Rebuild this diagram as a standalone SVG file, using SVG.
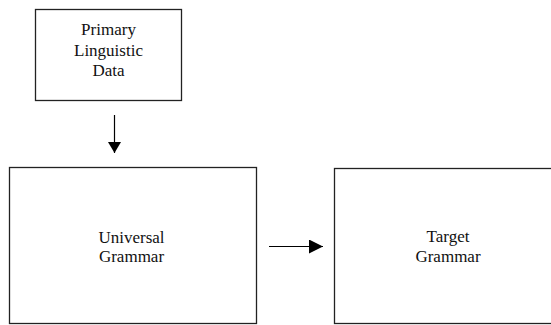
<svg xmlns="http://www.w3.org/2000/svg" width="551" height="325" viewBox="0 0 551 325">
<defs>
<style>
.box{fill:#fff;stroke:#222;stroke-width:1.3}
.lbl{font-family:"Liberation Serif","Times New Roman",serif;font-size:17px;fill:#111;text-anchor:middle}
.conn{stroke:#000;stroke-width:1.2;fill:none}
</style>
<marker id="arr" markerUnits="userSpaceOnUse" markerWidth="14" markerHeight="14" viewBox="0 0 14 14" refX="14" refY="7" orient="auto">
<path d="M0,0 L14,7 L0,14 Z" fill="#000"/>
</marker>
<marker id="arr2" markerUnits="userSpaceOnUse" markerWidth="11" markerHeight="13" viewBox="0 0 11 13" refX="11" refY="6.5" orient="auto">
<path d="M0,0 L11,6.5 L0,13 Z" fill="#000"/>
</marker>
</defs>
<rect width="551" height="325" fill="#fff"/>
<g id="pld">
<rect class="box" x="35.5" y="9.5" width="146" height="91"/>
<text class="lbl" x="108.5" y="35">Primary</text>
<text class="lbl" x="108.5" y="55.5">Linguistic</text>
<text class="lbl" x="108.5" y="76">Data</text>
</g>
<g id="ug">
<rect class="box" x="9.5" y="167.5" width="247" height="156"/>
<text class="lbl" x="131.5" y="243">Universal</text>
<text class="lbl" x="131.5" y="262">Grammar</text>
</g>
<g id="tg">
<rect class="box" x="334.5" y="168.5" width="220" height="155"/>
<text class="lbl" x="448" y="242">Target</text>
<text class="lbl" x="448" y="262">Grammar</text>
</g>
<g id="connectors">
<line class="conn" x1="114.5" y1="115" x2="114.5" y2="153" marker-end="url(#arr2)"/>
<line class="conn" x1="269" y1="246.5" x2="323" y2="246.5" marker-end="url(#arr)"/>
</g>
</svg>
